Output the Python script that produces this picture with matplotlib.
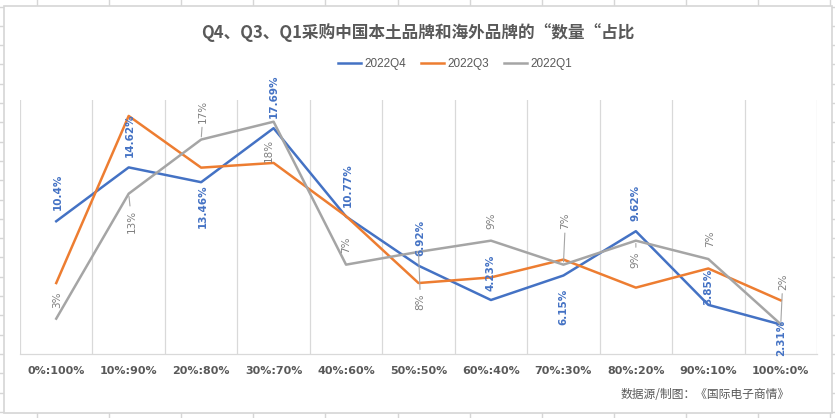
import matplotlib

matplotlib.use("Agg")
import matplotlib.pyplot as plt
from matplotlib import font_manager
from matplotlib.patches import Rectangle
import numpy as np

plt.rcParams["font.family"] = ["DejaVu Sans", "Noto Sans CJK SC"]
plt.rcParams["axes.unicode_minus"] = False

# 数据：各季度品牌数量占比（%）
categories = ["0%:100%", "10%:90%", "20%:80%", "30%:70%", "40%:60%", "50%:50%",
              "60%:40%", "70%:30%", "80%:20%", "90%:10%", "100%:0%"]
q4_values = [10.40, 14.62, 13.46, 17.69, 10.77, 6.92, 4.23, 6.15, 9.62, 3.85, 2.31]
q3_values = [5.56, 18.65, 14.60, 14.97, 10.80, 5.56, 6.00, 7.40, 5.20, 6.70, 4.20]
q1_values = [2.77, 12.56, 16.80, 18.20, 7.00, 8.00, 8.88, 7.00, 8.88, 7.44, 2.33]
series_names = ["2022Q4", "2022Q3", "2022Q1"]

title = "Q4、Q3、Q1采购中国本土品牌和海外品牌的“数量“占比"
source = "数据源/制图：《国际电子商情》"

BLUE = "#4472C4"
ORANGE = "#ED7D31"
GREY = "#A5A5A5"
TEXT = "#595959"

# 标签相对数据点的偏移（像素）
q4_offsets = [(2, 29), (1, 32), (2, -24), (0, 32), (2, 31), (2, 28),
              (0, 27), (0, -31), (0, 28), (0, 18), (0, -13)]
q1_offsets = [(1, 19), (3, -28), (2, 28), (-5, -29), (0, 20), (2, -50),
              (0, 20), (2, 44), (0, -19), (2, 20), (2, 43)]
q1_leader = [False, True, True, False, False, True, False, True, True, False, True]

names = {f.name for f in font_manager.fontManager.ttflist}
if "Liberation Sans Narrow" in names:
    legend_prop = {"family": "Liberation Sans Narrow", "size": 10}
else:
    legend_prop = {"family": "Liberation Sans", "size": 8.5}

W, H = 835, 418
fig = plt.figure(figsize=(W / 100, H / 100), dpi=100)

# 背景：表格网格线
bg = fig.add_axes([0, 0, 1, 1])
bg.set_xlim(0, W)
bg.set_ylim(H, 0)
bg.axis("off")
for x in np.arange(37, W, 72.1):
    bg.axvline(x, color="#D6D6D6", lw=1, zorder=1)
for y in np.arange(6.5, H, 19.3):
    bg.axhline(y, color="#D6D6D6", lw=1, zorder=1)
bg.add_patch(Rectangle((4, 6), 828, 407, facecolor="white", edgecolor="#D6D6D6",
                       lw=1.2, zorder=5))

ax = fig.add_axes([20 / W, (H - 354) / H, 797 / W, 254 / H])
ax.set_facecolor("none")
x = np.arange(len(categories))

ax.plot(x, q4_values, color=BLUE, lw=1.8, label=series_names[0], zorder=3)
ax.plot(x, q3_values, color=ORANGE, lw=1.8, label=series_names[1], zorder=3)
ax.plot(x, q1_values, color=GREY, lw=1.8, label=series_names[2], zorder=3)

ax.set_xlim(-0.5, len(categories) - 0.5)
ax.set_ylim(0, 19.9)

for b in np.arange(-0.5, len(categories) + 0.5, 1.0):
    ax.axvline(b, color="#D9D9D9", lw=0.9, zorder=1)
for side in ["top", "right", "left"]:
    ax.spines[side].set_visible(False)
ax.spines["bottom"].set_color("#D9D9D9")
ax.spines["bottom"].set_linewidth(0.9)
ax.set_yticks([])
ax.set_xticks(x)
ax.set_xticklabels(categories, fontsize=8, fontweight="bold", color=TEXT)
ax.tick_params(axis="x", length=0, pad=9)

for i, v in enumerate(q4_values):
    dx, dy = q4_offsets[i]
    ax.annotate(f"{v:g}%", (i, v), xytext=(dx, dy), textcoords="offset pixels",
                rotation=90, ha="center", va="center", fontsize=7.5,
                fontweight="bold", color=BLUE, zorder=5)

for i, v in enumerate(q1_values):
    dx, dy = q1_offsets[i]
    props = None
    if q1_leader[i]:
        props = dict(arrowstyle="-", color=GREY, lw=0.8, shrinkA=1, shrinkB=2)
    ax.annotate(f"{v:.0f}%", (i, v), xytext=(dx, dy), textcoords="offset pixels",
                rotation=90, ha="center", va="center", fontsize=7.5,
                color="#7F7F7F", arrowprops=props, zorder=5)

fig.text(418 / W, 1 - 33 / H, title, ha="center", va="center", fontsize=12,
         fontweight="bold", color=TEXT, family=["Noto Sans CJK SC", "DejaVu Sans"])

leg = fig.legend(loc="center", bbox_to_anchor=(455 / W, 1 - 64 / H), ncol=3,
                 frameon=False, handlelength=2.0, columnspacing=1.2,
                 handletextpad=0.3, prop=legend_prop)
for t in leg.get_texts():
    t.set_color(TEXT)

fig.text(790 / W, 1 - 394 / H, source, ha="right", va="center", fontsize=8.5,
         color=TEXT, family=["Noto Sans CJK SC", "DejaVu Sans"])

fig.savefig("out.png", dpi=100)
plt.close(fig)
